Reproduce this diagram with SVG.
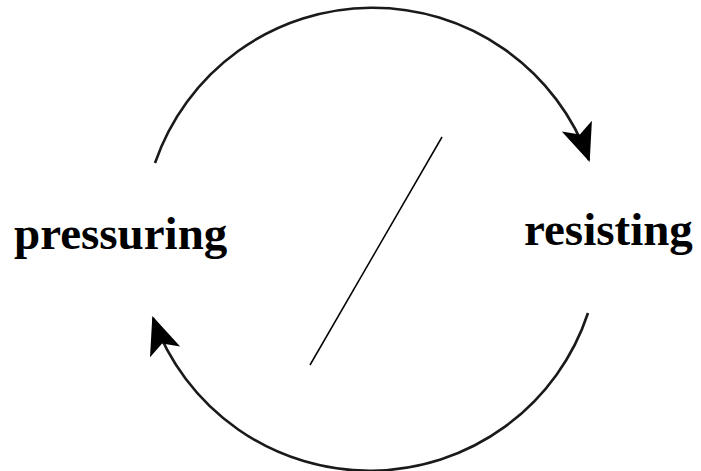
<svg xmlns="http://www.w3.org/2000/svg" width="701" height="471" viewBox="0 0 701 471">
  <style>
    .lbl { font-family: "Liberation Serif", "Times New Roman", serif; font-weight: bold; font-size: 47px; fill: #000; }
    .arc { fill: none; stroke: #1a1a1a; stroke-width: 2.6; }
  </style>
  <defs>
    <marker id="ah" markerUnits="userSpaceOnUse" viewBox="0 0 38 34" refX="36" refY="17" markerWidth="38" markerHeight="34" orient="auto">
      <path d="M0,1 L38,17 L0,33 L9,17 Z" fill="#000"/>
    </marker>
  </defs>
  <rect width="701" height="471" fill="#fff"/>
  <g id="connectors">
    <path class="arc" d="M155,163 A230,230 0 0 1 589,160" marker-end="url(#ah)"/>
    <path class="arc" d="M588,313 A230,230 0 0 1 153,318" marker-end="url(#ah)"/>
    <line x1="442" y1="137" x2="310" y2="365" stroke="#000" stroke-width="1.5"/>
  </g>
  <g id="pressuring">
    <text class="lbl" x="14" y="249">pressuring</text>
  </g>
  <g id="resisting">
    <text class="lbl" x="524" y="245">resisting</text>
  </g>
</svg>
